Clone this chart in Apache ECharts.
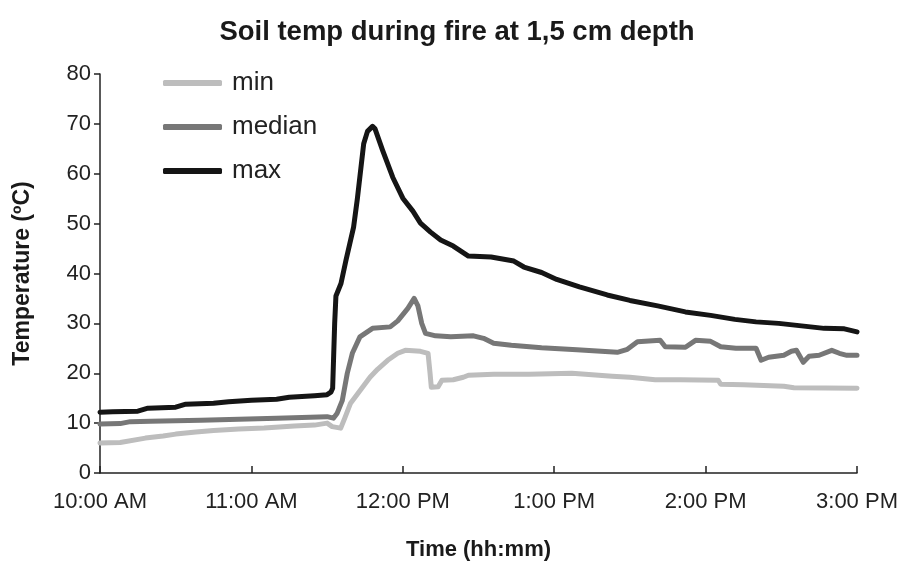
<!DOCTYPE html>
<html>
<head>
<meta charset="utf-8">
<script src="https://cdn.jsdelivr.net/npm/echarts@6/dist/echarts.min.js"></script>
<style>
html,body{margin:0;padding:0;background:#fff;}
#chart{width:914px;height:568px;}
</style>
</head>
<body>
<div id="chart"></div>
<script>
// minutes after 10:00 AM
var tickLabels = ['10:00 AM', '11:00 AM', '12:00 PM', '1:00 PM', '2:00 PM', '3:00 PM'];
var seriesNames = ['min', 'median', 'max'];

var maxTime = [0, 5, 15, 19, 30, 34, 45, 51, 60, 70, 75, 85, 90, 91.5, 92.2, 93, 93.5, 95.5, 97.5, 100.5, 102, 104.5, 106, 108, 109, 112, 116, 120, 124, 127, 131, 135, 140, 146, 155, 164, 168, 175, 181, 190, 201, 210, 221, 232, 242, 251.6, 260, 269, 278, 287, 295, 300];
var maxVals = [12.2, 12.3, 12.4, 13.0, 13.2, 13.8, 14.0, 14.3, 14.6, 14.8, 15.2, 15.5, 15.7, 16.2, 17, 30, 35.5, 38, 42.7, 49.3, 55, 66, 68.5, 69.5, 69, 64.7, 59.3, 55.1, 52.5, 50.1, 48.3, 46.7, 45.5, 43.5, 43.3, 42.5, 41.3, 40.2, 38.8, 37.3, 35.7, 34.6, 33.5, 32.3, 31.6, 30.8, 30.3, 30, 29.5, 29, 28.9, 28.3];

var medTime = [0, 8, 12, 20, 40, 55, 70, 90, 92.5, 94, 96, 98, 100, 103, 108, 115, 118, 122, 124.5, 126, 127.5, 129, 133, 139, 148, 152, 156, 163, 175, 189, 205, 209, 213, 222, 224, 232, 236, 242, 246, 252, 260, 262, 265, 271, 274, 276, 278.7, 281, 285, 290, 293, 296, 300];
var medVals = [9.8, 9.9, 10.3, 10.4, 10.6, 10.8, 11.0, 11.3, 11.0, 12, 14.5, 20, 24, 27.3, 29, 29.3, 30.5, 33, 35, 33.5, 30, 28, 27.5, 27.3, 27.5, 27, 26, 25.6, 25.1, 24.7, 24.2, 24.8, 26.3, 26.6, 25.3, 25.2, 26.6, 26.4, 25.3, 25.0, 25.0, 22.6, 23.2, 23.6, 24.4, 24.6, 22.2, 23.4, 23.6, 24.6, 24.0, 23.6, 23.6];

var minTime = [0, 8, 18, 25, 30, 38, 45, 55, 65, 77, 85, 90, 92, 95.4, 97, 99.3, 103, 107, 110, 114, 118, 121, 127, 130, 130.8, 131.3, 134, 135.5, 140, 144, 146, 156, 170, 187, 195, 203, 210, 220, 230, 245, 246, 255, 271, 275, 300];
var minVals = [6.0, 6.1, 7.0, 7.4, 7.8, 8.2, 8.5, 8.8, 9.0, 9.4, 9.6, 10.0, 9.3, 9.0, 11, 14, 16.5, 19.2, 20.8, 22.6, 24, 24.6, 24.4, 24, 20, 17.2, 17.3, 18.6, 18.7, 19.2, 19.6, 19.8, 19.8, 20, 19.7, 19.4, 19.2, 18.7, 18.7, 18.6, 17.8, 17.7, 17.4, 17.1, 17.0];

function pairs(t, v) { return t.map(function (x, i) { return [x, v[i]]; }); }

var colors = { min: '#bdbdbd', median: '#777777', max: '#151515' };
var FONT = 'Liberation Sans, Arial, sans-serif';

var chart = echarts.init(document.getElementById('chart'), null, { renderer: 'canvas' });
chart.setOption({
  animation: false,
  backgroundColor: '#ffffff',
  title: {
    text: 'Soil temp during fire at 1,5 cm depth',
    left: 'center',
    top: 13,
    textStyle: { fontFamily: FONT, fontSize: 27.5, fontWeight: 'bold', color: '#1a1a1a' }
  },
  legend: {
    orient: 'vertical',
    left: 163,
    top: 70,
    padding: 0,
    itemWidth: 59,
    itemHeight: 6,
    itemGap: 18,
    textStyle: { fontFamily: FONT, fontSize: 26, color: '#222', lineHeight: 26, padding: [0, 0, 0, 5] },
    data: seriesNames.map(function (n) { return { name: n, icon: 'roundRect' }; })
  },
  grid: { left: 100, right: 57, top: 74, bottom: 95, containLabel: false },
  xAxis: {
    type: 'value',
    min: 0, max: 300, interval: 60,
    name: 'Time (hh:mm)',
    nameLocation: 'middle',
    nameGap: 66,
    nameTextStyle: { fontFamily: FONT, fontSize: 22, fontWeight: 'bold', color: '#1a1a1a' },
    axisLine: { show: true, lineStyle: { color: '#222', width: 1.5 } },
    axisTick: { show: true, inside: true, length: 7, lineStyle: { color: '#222', width: 1.5 } },
    axisLabel: {
      fontFamily: FONT, fontSize: 22, color: '#222', margin: 18,
      formatter: function (v) { return tickLabels[Math.round(v / 60)]; }
    },
    splitLine: { show: false }
  },
  yAxis: {
    type: 'value',
    min: 0, max: 80, interval: 10,
    name: 'Temperature (ºC)',
    nameLocation: 'middle',
    nameGap: 66,
    nameRotate: 90,
    nameTextStyle: { fontFamily: FONT, fontSize: 23, fontWeight: 'bold', color: '#1a1a1a' },
    axisLine: { show: true, lineStyle: { color: '#222', width: 1.5 } },
    axisTick: { show: true, inside: false, length: 6, lineStyle: { color: '#222', width: 1.5 } },
    axisLabel: { fontFamily: FONT, fontSize: 22, color: '#222', margin: 9 },
    splitLine: { show: false }
  },
  series: [
    { name: 'min', type: 'line', showSymbol: false, symbol: 'none', data: pairs(minTime, minVals),
      lineStyle: { color: colors.min, width: 5, cap: 'round', join: 'round' }, itemStyle: { color: colors.min } },
    { name: 'median', type: 'line', showSymbol: false, symbol: 'none', data: pairs(medTime, medVals),
      lineStyle: { color: colors.median, width: 5, cap: 'round', join: 'round' }, itemStyle: { color: colors.median } },
    { name: 'max', type: 'line', showSymbol: false, symbol: 'none', data: pairs(maxTime, maxVals),
      lineStyle: { color: colors.max, width: 5, cap: 'round', join: 'round' }, itemStyle: { color: colors.max } }
  ]
});
</script>
</body>
</html>
